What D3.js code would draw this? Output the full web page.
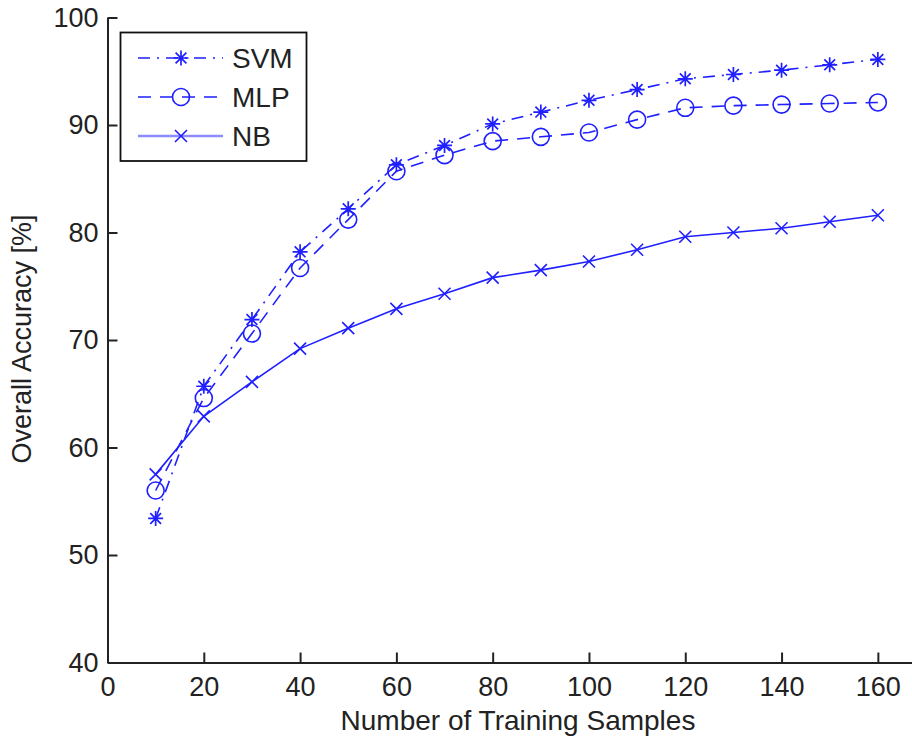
<!DOCTYPE html>
<html lang="en">
<head>
<meta charset="UTF-8">
<title>Overall Accuracy vs Training Samples</title>
<script src="https://d3js.org/d3.v7.min.js"></script>
<style>
  body { margin: 0; background: #fff; }
  svg { display: block; font-family: "Liberation Sans", Arial, Helvetica, sans-serif; }
  .axis path, .axis line { stroke: #222; stroke-width: 2; }
  .axis text { font-size: 27px; fill: #222; }
</style>
</head>
<body>
<svg id="chart" width="912" height="738"></svg>
<script>
// training sample counts
var samples = [10, 20, 30, 40, 50, 60, 70, 80, 90, 100, 110, 120, 130, 140, 150, 160];
// accuracy values
var svm = [53.4, 65.7, 71.9, 78.2, 82.2, 86.3, 88.1, 90.1, 91.2, 92.3, 93.3, 94.3, 94.7, 95.1, 95.6, 96.1];
var mlp = [56.0, 64.6, 70.6, 76.7, 81.2, 85.7, 87.2, 88.5, 88.9, 89.3, 90.5, 91.6, 91.8, 91.9, 92.0, 92.1];
var nb  = [57.5, 62.9, 66.1, 69.2, 71.1, 72.9, 74.3, 75.8, 76.5, 77.3, 78.4, 79.6, 80.0, 80.4, 81.0, 81.6];
var xTicks = [0, 20, 40, 60, 80, 100, 120, 140, 160];
var yTicks = [40, 50, 60, 70, 80, 90, 100];

var svg = d3.select("#chart");
var blue = "#1f1fff";

var x = d3.scaleLinear().domain([0, 170]).range([107.5, 926]);
var y = d3.scaleLinear().domain([40, 100]).range([662.5, 17.5]);

svg.append("g").attr("class", "axis")
  .attr("transform", "translate(0," + y(40) + ")")
  .call(d3.axisBottom(x).tickValues(xTicks).tickSizeInner(-10).tickSizeOuter(0).tickPadding(14));

svg.append("g").attr("class", "axis")
  .attr("transform", "translate(" + x(0) + ",0)")
  .call(d3.axisLeft(y).tickValues(yTicks).tickSizeInner(-10).tickSizeOuter(0).tickPadding(9));

svg.append("text").attr("x", 518).attr("y", 730).attr("text-anchor", "middle")
  .attr("font-size", "28px").attr("fill", "#222").text("Number of Training Samples");
svg.append("text").attr("transform", "translate(31,339) rotate(-90)").attr("text-anchor", "middle")
  .attr("font-size", "27px").attr("fill", "#222").text("Overall Accuracy [%]");

// marker shapes
function drawStar(g, cx, cy) {
  var r = 7.5, d = r * 0.72;
  var p = "M" + (cx - r) + "," + cy + "H" + (cx + r) + "M" + cx + "," + (cy - r) + "V" + (cy + r) +
          "M" + (cx - d) + "," + (cy - d) + "L" + (cx + d) + "," + (cy + d) +
          "M" + (cx - d) + "," + (cy + d) + "L" + (cx + d) + "," + (cy - d);
  g.append("path").attr("d", p).attr("stroke", blue).attr("stroke-width", 1.7).attr("fill", "none");
}
function drawCircle(g, cx, cy) {
  g.append("circle").attr("cx", cx).attr("cy", cy).attr("r", 8.5)
    .attr("stroke", blue).attr("stroke-width", 1.6).attr("fill", "none");
}
function drawCross(g, cx, cy) {
  var r = 6;
  var p = "M" + (cx - r) + "," + (cy - r) + "L" + (cx + r) + "," + (cy + r) +
          "M" + (cx - r) + "," + (cy + r) + "L" + (cx + r) + "," + (cy - r);
  g.append("path").attr("d", p).attr("stroke", blue).attr("stroke-width", 1.6).attr("fill", "none");
}

var series = [
  { name: "SVM", values: svm, dash: "12,7,2,7", marker: drawStar },
  { name: "MLP", values: mlp, dash: "13,9", marker: drawCircle },
  { name: "NB", values: nb, dash: null, marker: drawCross }
];

var line = d3.line().x(function(d) { return x(d[0]); }).y(function(d) { return y(d[1]); });

series.forEach(function(s) {
  var g = svg.append("g");
  var pts = samples.map(function(v, i) { return [v, s.values[i]]; });
  g.append("path").datum(pts).attr("d", line)
    .attr("fill", "none").attr("stroke", blue).attr("stroke-width", 1.6)
    .attr("stroke-dasharray", s.dash);
  pts.forEach(function(p) { s.marker(g, x(p[0]), y(p[1])); });
});

// legend
var lg = svg.append("g");
lg.append("rect").attr("x", 120.5).attr("y", 32.5).attr("width", 186).attr("height", 128.5)
  .attr("fill", "#fff").attr("stroke", "#111").attr("stroke-width", 1.8);
series.forEach(function(s, i) {
  var cy = 58 + i * 39;
  lg.append("line").attr("x1", 138).attr("x2", 223).attr("y1", cy).attr("y2", cy)
    .attr("stroke", s.name === "NB" ? "#8c8cff" : blue).attr("stroke-width", s.name === "NB" ? 2.5 : 1.6)
    .attr("stroke-dasharray", s.dash);
  s.marker(lg, 181, cy);
  lg.append("text").attr("x", 232).attr("y", cy).attr("dy", "0.36em")
    .attr("font-size", "28px").attr("fill", "#222").text(s.name);
});
</script>
</body>
</html>
